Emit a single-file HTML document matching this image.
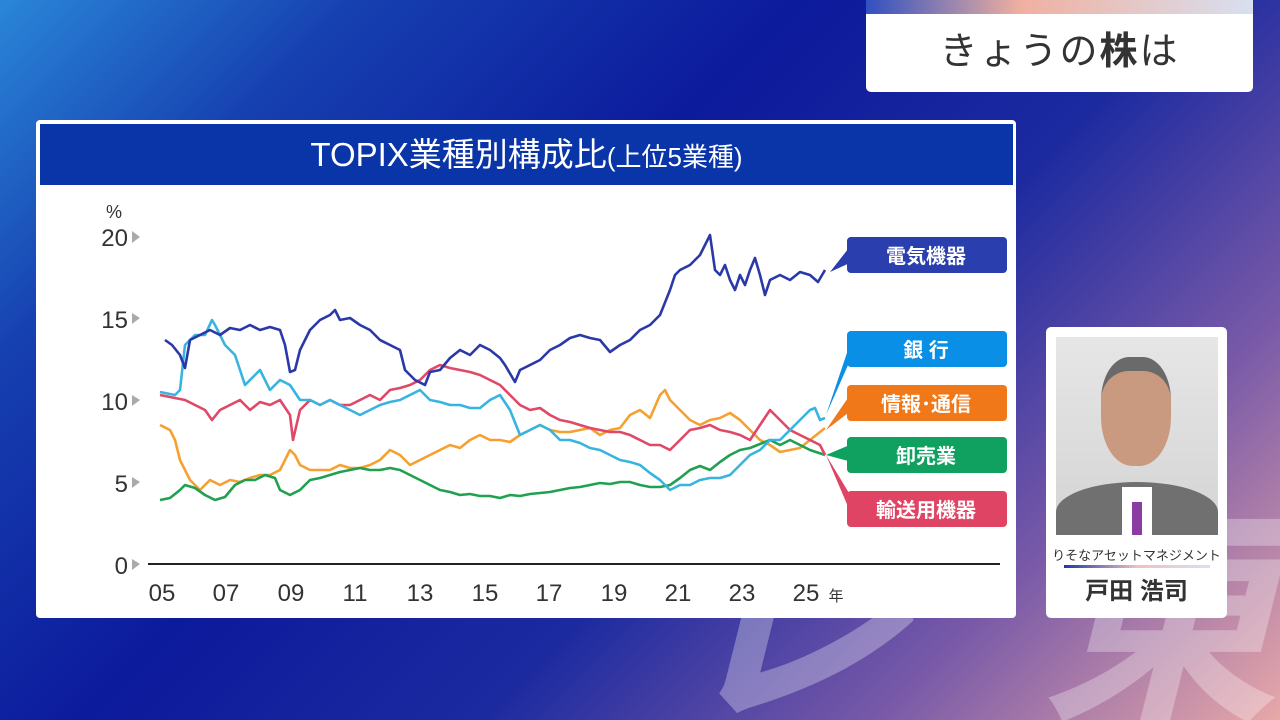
<!DOCTYPE html>
<html><head><meta charset="utf-8"><style>
html,body{margin:0;width:1280px;height:720px;overflow:hidden}
body{position:relative;font-family:"Liberation Sans","Noto Sans CJK JP",sans-serif;
background:linear-gradient(135deg,#2a86d8 0%,#1640b0 18%,#0c1a9c 40%,#1c2aa0 60%,#7a5aa8 80%,#e8a8a8 100%);}
.abs{position:absolute}
.wm{position:absolute;font-size:240px;font-weight:bold;color:rgba(255,255,255,0.3);font-style:italic;line-height:1;white-space:nowrap}
</style></head><body>
<div class="wm" style="left:670px;top:500px">レ</div>
<div class="wm" style="left:1040px;top:500px">東</div>
<div class="abs" style="left:866px;top:0;width:387px;height:92px;background:#fff;border-radius:0 0 5px 5px;overflow:hidden">
<div style="height:14px;background:linear-gradient(90deg,#3050c0,#f0b0a0 40%,#d8e0f0)"></div>
<div style="text-align:center;font-size:38px;color:#333;line-height:76px;letter-spacing:2px">きょうの<b>株</b>は</div></div>
<div class="abs" style="left:36px;top:120px;width:980px;height:498px;background:#fff;border-radius:4px"></div>
<div class="abs" style="left:40px;top:124px;width:973px;height:61px;background:#0a35a8;color:#fff;text-align:center;font-size:33px;line-height:61px">TOPIX業種別構成比<span style="font-size:26px">(上位5業種)</span></div>
<div class="abs" style="left:1046px;top:327px;width:181px;height:291px;background:#fff;border-radius:5px">
<div style="position:absolute;left:10px;top:10px;width:162px;height:198px;background:linear-gradient(#e6e6e6,#d4d4d4);overflow:hidden">
<div style="position:absolute;left:45px;top:20px;width:70px;height:95px;background:#c99a80;border-radius:40% 40% 45% 45%;border-top:14px solid #6a6a6a"></div>
<div style="position:absolute;left:0;top:145px;width:162px;height:60px;background:#707070;border-radius:50% 50% 0 0"></div>
<div style="position:absolute;left:66px;top:150px;width:30px;height:48px;background:#fff"></div>
<div style="position:absolute;left:76px;top:165px;width:10px;height:33px;background:#8a3ca0"></div></div>
<div style="position:absolute;top:218px;width:181px;text-align:center;font-size:13px;color:#333">りそなアセットマネジメント</div>
<div style="position:absolute;left:18px;top:238px;width:146px;height:3px;background:linear-gradient(90deg,#1a3aa8,#f0c0c0,#d8e0f0)"></div>
<div style="position:absolute;top:244px;width:181px;text-align:center;font-size:24px;font-weight:bold;color:#333">戸田 浩司</div></div>
<svg class="abs" style="left:0;top:0" width="1280" height="720">
<g font-size="24" fill="#333" text-anchor="end">
<text x="122" y="218" font-size="18">%</text>
<text x="128" y="246">20</text><text x="128" y="328">15</text><text x="128" y="410">10</text><text x="128" y="492">5</text><text x="128" y="574">0</text></g>
<g fill="#aaa"><path d="M132 231l8 6-8 6z"/><path d="M132 313l8 5-8 6z"/><path d="M132 395l8 5-8 6z"/><path d="M132 477l8 5-8 6z"/><path d="M132 559l8 5-8 6z"/></g>
<line x1="148" y1="564" x2="1000" y2="564" stroke="#222" stroke-width="2"/>
<g font-size="24" fill="#333" text-anchor="middle">
<text x="162" y="601">05</text><text x="226" y="601">07</text><text x="291" y="601">09</text><text x="355" y="601">11</text><text x="420" y="601">13</text><text x="485" y="601">15</text><text x="549" y="601">17</text><text x="614" y="601">19</text><text x="678" y="601">21</text><text x="742" y="601">23</text><text x="806" y="601">25</text><text x="836" y="601" font-size="15">年</text></g>
<g fill="none" stroke-width="2.6" stroke-linejoin="round">
<polyline stroke="#f5a030" points="160,425 170,430 175,440 180,460 190,480 200,490 210,480 220,485 230,480 240,482 250,478 260,475 270,475 280,470 290,450 295,455 300,465 310,470 320,470 330,470 340,465 350,468 360,468 370,465 380,460 390,450 400,455 410,465 420,460 430,455 440,450 450,445 460,448 470,440 480,435 490,440 500,440 510,442 520,435 530,430 540,425 550,430 560,432 570,432 580,430 590,428 600,435 610,430 620,428 630,415 640,410 650,418 660,395 665,390 670,400 680,410 690,420 700,425 710,420 720,418 730,413 740,420 750,430 760,440 770,445 780,452 790,450 800,448 810,440 825,428"/>
<polyline stroke="#20a050" points="160,500 170,498 180,490 185,485 195,488 205,495 215,500 225,497 235,485 245,480 255,480 265,475 275,478 280,490 290,495 300,490 310,480 320,478 330,475 340,472 350,470 360,468 370,470 380,470 390,468 400,470 410,475 420,480 430,485 440,490 450,492 460,495 470,494 480,496 490,496 500,498 510,495 520,496 530,494 540,493 550,492 560,490 570,488 580,487 590,485 600,483 610,484 620,482 630,482 640,485 650,487 660,487 670,485 680,478 690,470 700,466 710,470 720,462 730,455 740,450 750,448 760,444 770,440 780,445 790,440 800,445 810,450 825,455"/>
<polyline stroke="#e04868" points="160,395 175,398 185,400 195,405 205,410 212,420 220,410 230,405 240,400 250,410 260,402 270,405 280,400 290,415 293,440 300,410 310,400 320,405 330,400 340,405 350,405 360,400 370,395 380,400 390,390 400,388 410,385 420,380 430,370 440,365 450,368 460,370 470,372 480,375 490,380 500,385 510,395 520,405 530,410 540,408 550,415 560,420 570,422 580,425 590,428 600,430 610,432 620,432 630,435 640,440 650,445 660,445 670,450 680,440 690,430 700,428 710,425 720,430 730,432 740,435 750,440 760,425 770,410 780,420 790,430 800,435 810,440 820,445 825,455"/>
<polyline stroke="#38b4e0" points="160,392 175,395 180,390 185,345 195,335 205,335 212,320 215,325 225,345 235,355 245,385 255,375 260,370 270,390 280,380 290,385 300,400 310,400 320,405 330,400 340,405 350,410 360,415 370,410 380,405 390,402 400,400 410,395 420,390 430,400 440,402 450,405 460,405 470,408 480,408 490,400 500,395 510,410 520,435 530,430 540,425 550,430 560,440 570,440 580,443 590,448 600,450 610,455 620,460 630,462 640,465 650,473 660,480 670,490 680,485 690,485 700,480 710,478 720,478 730,475 740,465 750,455 760,450 770,440 780,440 790,430 800,420 810,410 815,408 820,420 825,418"/>
<polyline stroke="#2a38a8" points="165,340 172,345 180,355 185,368 190,340 200,335 210,330 220,335 230,328 240,330 250,325 260,330 270,327 280,330 285,345 290,372 295,370 300,350 310,330 320,320 330,315 335,310 340,320 350,318 360,325 370,330 380,340 390,345 400,350 405,370 415,380 425,385 430,372 440,370 450,358 460,350 470,355 480,345 490,350 500,358 505,365 515,382 520,370 530,365 540,360 550,350 560,345 570,338 580,335 590,338 600,340 610,352 620,345 630,340 640,330 650,325 660,315 670,290 675,275 680,270 690,265 700,255 705,245 710,235 715,270 720,275 725,265 730,280 735,290 740,275 745,285 750,270 755,258 760,275 765,295 770,280 780,275 790,280 800,272 810,275 818,282 825,270"/>
</g>
<g>
<path d="M830 272L852 244L852 262Z" fill="#2b3eae"/><rect x="847" y="237" width="160" height="36" rx="4" fill="#2b3eae"/>
<path d="M826 415L852 338L852 356Z" fill="#0a8fe6"/><rect x="847" y="331" width="160" height="36" rx="4" fill="#0a8fe6"/>
<path d="M826 430L852 392L852 410Z" fill="#f07818"/><rect x="847" y="385" width="160" height="36" rx="4" fill="#f07818"/>
<path d="M826 455L852 444L852 462Z" fill="#10a060"/><rect x="847" y="437" width="160" height="36" rx="4" fill="#10a060"/>
<path d="M826 455L852 498L852 516Z" fill="#e04464"/><rect x="847" y="491" width="160" height="36" rx="4" fill="#e04464"/>
</g>
<g fill="#fff" font-size="20" font-weight="bold" text-anchor="middle">
<text x="926" y="263">電気機器</text><text x="926" y="357">銀 行</text><text x="926" y="411">情報･通信</text><text x="926" y="463">卸売業</text><text x="926" y="517">輸送用機器</text></g>
</svg>
</body></html>
